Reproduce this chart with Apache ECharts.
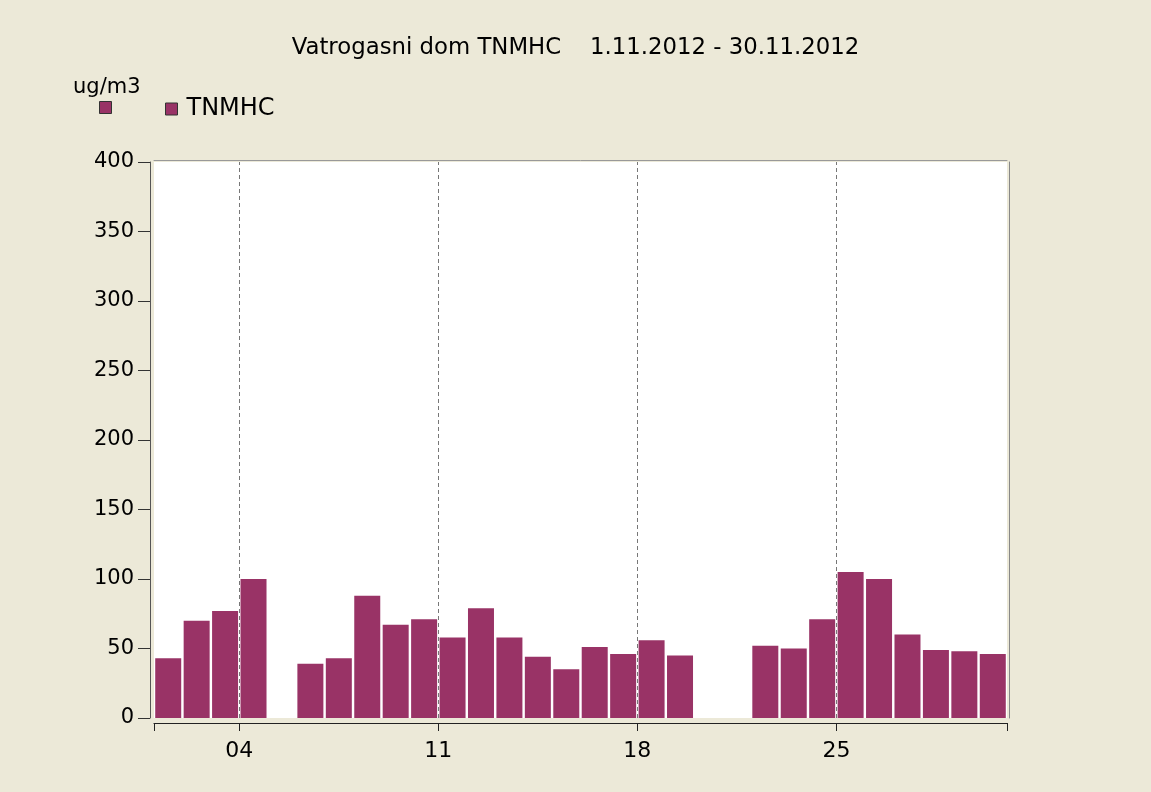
<!DOCTYPE html>
<html>
<head>
<meta charset="utf-8">
<script src="https://cdn.jsdelivr.net/npm/echarts@6/dist/echarts.min.js"></script>
<style>html,body{margin:0;padding:0;background:#ECE9D8;}#c{width:1151px;height:792px;}</style>
</head>
<body>
<div id="c"></div>
<script>
const titleText = 'Vatrogasni dom TNMHC    1.11.2012 - 30.11.2012';
const unitText = 'ug/m3';
const seriesName = 'TNMHC';
const days = [1,2,3,4,6,7,8,9,10,11,12,13,14,15,16,17,18,19,22,23,24,25,26,27,28,29,30];
const values = [43,70,77,100,39,43,88,67,71,58,79,58,44,35,51,46,56,45,52,50,71,105,100,60,49,48,46];
const labelDays = [4,11,18,25];
const tickDays = [1,4,11,18,25,31];
const yTicks = {min:0, max:400, interval:50};

const chart = echarts.init(document.getElementById('c'));
const font = '"DejaVu Sans", Verdana, sans-serif';
const barColor = '#993366';

chart.setOption({
  backgroundColor: '#ECE9D8',
  animation: false,
  textStyle: {fontFamily: font},
  title: [
    {text: titleText, left: 'center', top: 32, textStyle: {fontSize: 22.8, fontWeight: 'normal', color: '#000', fontFamily: font}},
    {text: unitText, left: 68, top: 72, textStyle: {fontSize: 21, fontWeight: 'normal', color: '#000', fontFamily: font}}
  ],
  legend: {
    data: [seriesName],
    left: 160, top: 92,
    icon: 'rect', itemWidth: 12, itemHeight: 12,
    itemStyle: {borderColor: '#333', borderWidth: 1},
    textStyle: {fontSize: 24, color: '#000', fontFamily: font, padding: [0,0,0,4]}
  },
  graphic: [
    {type: 'rect', left: 99, top: 101, shape: {width: 12, height: 12}, style: {fill: barColor, stroke: '#333', lineWidth: 1}}
  ],
  grid: {left: 154, right: 144, top: 162, bottom: 74, show: true, backgroundColor: '#fff', borderWidth: 0},
  xAxis: [
    {
      type: 'value', min: 1, max: 31, offset: 5,
      axisLine: {show: true, onZero: false, lineStyle: {color: '#222', width: 1.2}},
      axisTick: {show: true, length: 8, customValues: tickDays, lineStyle: {color: '#222'}},
      axisLabel: {customValues: labelDays, fontSize: 22, color: '#000', margin: 17, fontFamily: font,
        formatter: v => String(v).padStart(2, '0')},
      splitLine: {show: false}
    },
    {
      type: 'value', min: 1, max: 31, position: 'top', offset: 2,
      axisLine: {show: true, onZero: false, lineStyle: {color: '#999'}},
      axisTick: {show: false}, axisLabel: {show: false}, splitLine: {show: false}
    }
  ],
  yAxis: [
    {
      type: 'value', min: yTicks.min, max: yTicks.max, interval: yTicks.interval, offset: 4,
      axisLine: {show: true, onZero: false, lineStyle: {color: '#555'}},
      axisTick: {show: true, length: 12, lineStyle: {color: '#333'}},
      axisLabel: {fontSize: 21, color: '#000', margin: 16, fontFamily: font},
      splitLine: {show: false}
    },
    {
      type: 'value', min: yTicks.min, max: yTicks.max, interval: yTicks.interval, position: 'right', offset: 2,
      axisLine: {show: true, onZero: false, lineStyle: {color: '#888'}},
      axisTick: {show: false}, axisLabel: {show: false}, splitLine: {show: false}
    }
  ],
  series: [
    {
      name: seriesName, type: 'bar', xAxisIndex: 0, yAxisIndex: 0,
      data: days.map((d, i) => [d + 0.5, values[i]]),
      barWidth: 26,
      itemStyle: {color: barColor},
      markLine: {
        silent: true, symbol: 'none', label: {show: false},
        lineStyle: {type: [4, 3], color: '#777', width: 1},
        data: labelDays.map(d => ({xAxis: d}))
      }
    }
  ]
});
</script>
</body>
</html>
